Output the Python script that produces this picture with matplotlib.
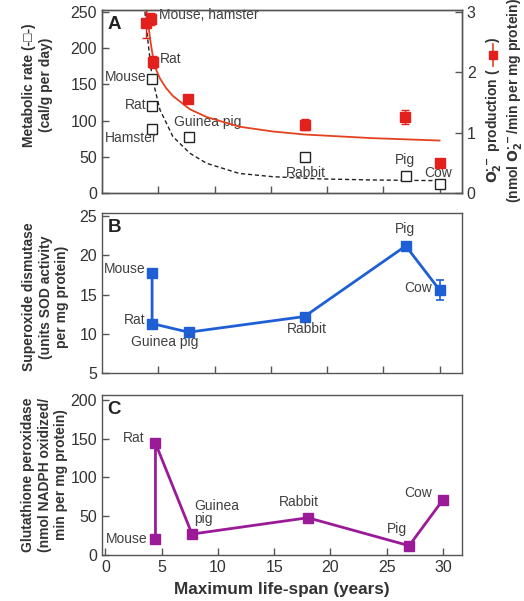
import matplotlib as mpl

mpl.use("Agg")
import matplotlib.pyplot as plt
from matplotlib.lines import Line2D

plt.rcParams["font.family"] = ["Liberation Sans", "DejaVu Sans"]

RED = "#e3201c"
RED_FIT = "#e4421f"
BLUE = "#1f5fd6"
PURPLE = "#9a1a98"
SPINE = "#555555"
TXT = "#404040"

# panel A: metabolic rate (open squares, left axis)
met_x = [4.45, 4.45, 4.4, 7.7, 18.0, 27.0, 30.0]
met_y = [158, 120, 88, 78, 50, 23, 13]
met_fit_x = [3.75, 4.1, 4.45, 5.15, 6.3, 7.8, 9.3, 12.2, 15.2, 19.3, 24.0, 30.0]
met_fit_y = [260, 207, 160, 115, 78, 55, 41, 27, 22.5, 19.5, 18, 17]

# panel A: O2- production (red squares, right axis)
o2_x = [3.9, 4.35, 4.5, 7.65, 18.05, 26.9, 30.0]
o2_y = [2.82, 2.88, 2.17, 1.56, 1.13, 1.26, 0.50]
o2_err = [0.25, 0.1, 0.1, 0.0, 0.09, 0.12, 0.0]
o2_fit_x = [3.85, 3.95, 4.1, 4.3, 4.55, 4.8, 5.15, 5.7, 6.3, 7.8, 9.3,
            12.2, 15.2, 18.0, 21.0, 24.0, 27.0, 30.0]
o2_fit_y = [3.15, 3.02, 2.82, 2.52, 2.23, 2.05, 1.90, 1.74, 1.61, 1.39, 1.26,
            1.10, 1.02, 0.97, 0.94, 0.91, 0.89, 0.87]

# panel B: superoxide dismutase
sod_x = [4.45, 4.45, 7.7, 18.0, 27.0, 30.0]
sod_y = [17.8, 11.3, 10.2, 12.2, 21.2, 15.6]
sod_err = [0.0, 0.0, 0.0, 0.0, 0.5, 1.3]

# panel C: glutathione peroxidase
gpx_x = [4.45, 4.45, 7.7, 18.0, 27.0, 30.0]
gpx_y = [20, 144, 27, 48, 12, 71]

fig = plt.figure(figsize=(5.24, 6.01), dpi=100)
axA = fig.add_axes([0.1947, 0.6789, 0.687, 0.3045])
axB = fig.add_axes([0.1947, 0.3794, 0.687, 0.2662])
axC = fig.add_axes([0.1947, 0.0765, 0.687, 0.2662])
axR = axA.twinx()


def style(ax):
    for s in ax.spines.values():
        s.set_color(SPINE)
        s.set_linewidth(1.0)
    ax.tick_params(direction="in", length=5, width=1, color=SPINE,
                   labelsize=11.5, labelcolor="#333333")


for ax in (axA, axB, axC, axR):
    style(ax)

# --- A ---
axA.plot(met_fit_x, met_fit_y, ls=(0, (3, 2)), color="#222222", lw=1.0)
axA.plot(met_x, met_y, ls="none", marker="s", ms=7.5, mfc="white",
         mec="#222222", mew=1.0)
axA.set_xlim(0, 32)
axA.set_ylim(0, 253)
axA.set_yticks([0, 50, 100, 150, 200, 250])
axA.set_xticks([5, 10, 15, 20, 25, 30])
axA.set_xticklabels([])
axR.plot(o2_fit_x, o2_fit_y, color=RED_FIT, lw=1.3)
axR.errorbar(o2_x, o2_y, yerr=o2_err, fmt="s", color=RED, ms=7, capsize=3,
             elinewidth=1, capthick=1)
axR.set_ylim(0, 3 * 253 / 250)
axR.set_yticks([0, 1, 2, 3])
axR.tick_params(axis="y", direction="in")
axR.spines["right"].set_color(SPINE)

panel = dict(fontsize=13.5, fontweight="bold", va="top", color="#222222")
axA.text(0.015, 0.965, "A", transform=axA.transAxes, **panel)
lab = dict(color=TXT, fontsize=10, va="center")
axA.text(5.05, 246, "Mouse, hamster", ha="left", **lab)
axA.text(5.15, 185, "Rat", ha="left", **lab)
axA.text(3.95, 160, "Mouse", ha="right", **lab)
axA.text(3.95, 121, "Rat", ha="right", **lab)
axA.text(2.6, 76, "Hamster", ha="center", **lab)
axA.text(9.4, 98, "Guinea pig", ha="center", **lab)
axA.text(18.1, 28, "Rabbit", ha="center", **lab)
axA.text(26.9, 46, "Pig", ha="center", **lab)
axA.text(29.9, 27, "Cow", ha="center", **lab)

# --- B ---
axB.errorbar(sod_x, sod_y, yerr=sod_err, color=BLUE, lw=2, marker="s", ms=7,
             capsize=3, elinewidth=1.2, capthick=1.2)
axB.set_xlim(0, 32)
axB.set_ylim(5, 25.4)
axB.set_yticks([5, 10, 15, 20, 25])
axB.set_xticks([5, 10, 15, 20, 25, 30])
axB.set_xticklabels([])
axB.text(0.015, 0.965, "B", transform=axB.transAxes, **panel)
axB.text(3.9, 18.2, "Mouse", ha="right", **lab)
axB.text(3.9, 11.7, "Rat", ha="right", **lab)
axB.text(5.6, 8.9, "Guinea pig", ha="center", **lab)
axB.text(18.25, 10.65, "Rabbit", ha="center", **lab)
axB.text(26.9, 23.3, "Pig", ha="center", **lab)
axB.text(29.3, 15.8, "Cow", ha="right", **lab)

# --- C ---
axC.plot(gpx_x, gpx_y, color=PURPLE, lw=2, marker="s", ms=7)
axC.set_xlim(-0.3, 31.7)
axC.set_ylim(0, 206)
axC.set_yticks([0, 50, 100, 150, 200])
axC.set_xticks([0, 5, 10, 15, 20, 25, 30])
axC.text(0.015, 0.965, "C", transform=axC.transAxes, **panel)
axC.text(3.45, 151, "Rat", ha="right", **lab)
axC.text(3.7, 21, "Mouse", ha="right", **lab)
axC.text(7.9, 55, "Guinea\npig", ha="left", linespacing=0.9, **lab)
axC.text(17.2, 68, "Rabbit", ha="center", **lab)
axC.text(25.9, 33, "Pig", ha="center", **lab)
axC.text(27.8, 79.5, "Cow", ha="center", **lab)
axC.set_xlabel("Maximum life-span (years)", fontsize=12.3,
               fontweight="bold", color="#333333", labelpad=5)

# y-axis labels
ylab = dict(rotation=90, ha="center", va="center", fontsize=10,
            fontweight="bold", color="#333333", multialignment="center",
            linespacing=1.25)
fig.text(0.072, 0.859, "Metabolic rate (-\u25a1-)\n(cal/g per day)", **ylab)
fig.text(0.087, 0.506,
         "Superoxide dismutase\n(units SOD activity\nper mg protein)", **ylab)
fig.text(0.085, 0.210,
         "Glutathione peroxidase\n(nmol NADPH oxidized/\nmin per mg protein)",
         **ylab)

# right label, first line built in pieces so the marker can be red
fig.canvas.draw()
rend = fig.canvas.get_renderer()
H = fig.bbox.height
xr = 0.941
t1 = fig.text(xr, 0.696, r"$\mathbf{O_2^{\cdot -}}$ production (", rotation=90,
              ha="center", va="bottom", fontsize=10, fontweight="bold",
              color="#333333")
y1 = t1.get_window_extent(rend).y1 / H
seg = 0.04
fig.add_artist(Line2D([xr, xr], [y1 + 0.003, y1 + seg], transform=fig.transFigure,
                      color=RED_FIT, lw=1.2))
fig.add_artist(Line2D([xr], [y1 + seg / 2 + 0.0015], transform=fig.transFigure,
                      color=RED, marker="s", ms=6, ls="none"))
fig.text(xr, y1 + seg + 0.002, ")", rotation=90, ha="center", va="bottom",
         fontsize=10, fontweight="bold", color="#333333")
fig.text(0.982, 0.832, r"(nmol $\mathbf{O_2^{\cdot -}}$/min per mg protein)",
         rotation=90, ha="center", va="center", fontsize=10,
         fontweight="bold", color="#333333")

fig.savefig("out.png", dpi=100)
